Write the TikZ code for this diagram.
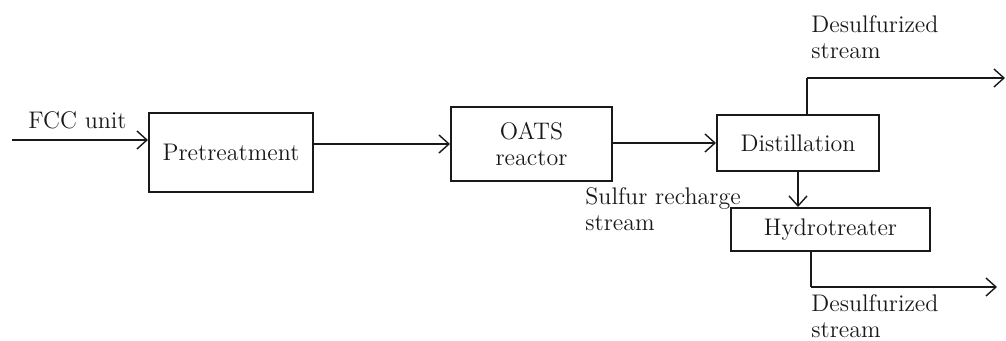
\documentclass[tikz,border=0pt]{standalone}
\usepackage{tikz}
\usetikzlibrary{arrows.meta}

\tikzset{
  unit/.style={draw, line width=1pt, inner sep=0pt, align=center},
  flow/.style={line width=0.7pt, -{Straight Barb[length=5pt,width=9pt]}},
  pipe/.style={line width=0.7pt},
  lbl/.style={inner sep=0pt, align=left, anchor=north west}
}

\begin{document}
\begin{tikzpicture}[x=0.5pt, y=-0.5pt, font=\fontsize{12}{13}\selectfont, color=black!90]
 \useasboundingbox (0,0) rectangle (1006,341);

 % process units
 \node[unit, minimum width=82pt, minimum height=39.5pt] (pre) at (231,152.5) {Pretreatment};
 \node[unit, minimum width=80.5pt, minimum height=37pt] (oats) at (531.5,144) {OATS\\reactor};
 \node[unit, minimum width=81pt, minimum height=28pt] (dist) at (798,143) {Distillation};
 \node[unit, minimum width=99.5pt, minimum height=21.5pt] (hyd) at (830.5,229.5) {Hydrotreater};

 % free ends
 \coordinate (fcc) at (12,140);
 \coordinate (dtop) at (807,78);
 \coordinate (dout) at (1005,78);
 \coordinate (hbot) at (811,287);
 \coordinate (hout) at (997,287);

 \draw[flow] (fcc) -- (fcc -| pre.west);
 \draw[flow] (pre.east |- oats.west) -- (oats.west);
 \draw[flow] (oats.east |- dist.west) -- (dist.west);
 \draw[pipe] (dtop |- dist.north) -- (dtop);
 \draw[flow] (dtop) -- (dout);
 \draw[flow] (dist.south) -- (dist.south |- hyd.north);
 \draw[pipe] (hbot |- hyd.south) -- (hbot);
 \draw[flow] (hbot) -- (hout);

 % stream labels
 \node[inner sep=0pt, anchor=base west] (fcclbl) at (28,129) {FCC unit};
 \node[lbl] (desup) at (811,15) {Desulfurized\\stream};
 \node[lbl] (sulf) at (585,187) {Sulfur recharge\\stream};
 \node[lbl] (deslo) at (811,294) {Desulfurized\\stream};
\end{tikzpicture}
\end{document}
